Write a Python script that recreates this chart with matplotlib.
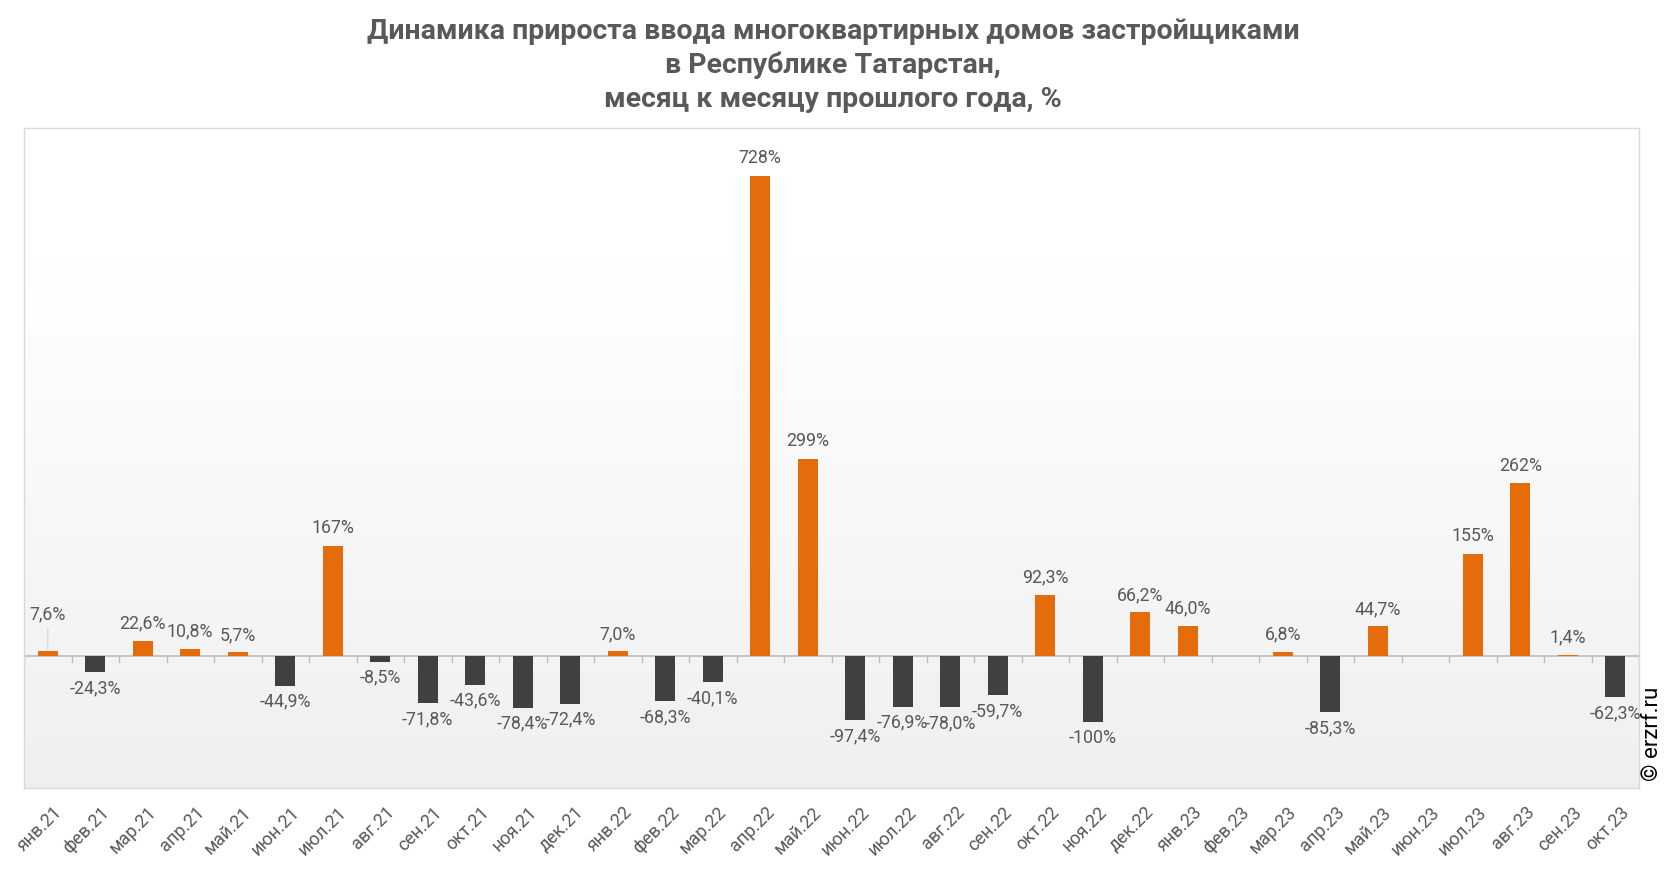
import matplotlib.pyplot as plt
import numpy as np

plt.rcParams['font.family'] = ['Roboto', 'DejaVu Sans']

months = ["янв.21", "фев.21", "мар.21", "апр.21", "май.21", "июн.21", "июл.21", "авг.21",
          "сен.21", "окт.21", "ноя.21", "дек.21", "янв.22", "фев.22", "мар.22", "апр.22",
          "май.22", "июн.22", "июл.22", "авг.22", "сен.22", "окт.22", "ноя.22", "дек.22",
          "янв.23", "фев.23", "мар.23", "апр.23", "май.23", "июн.23", "июл.23", "авг.23",
          "сен.23", "окт.23"]
values = [7.6, -24.3, 22.6, 10.8, 5.7, -44.9, 167, -8.5,
          -71.8, -43.6, -78.4, -72.4, 7.0, -68.3, -40.1, 728,
          299, -97.4, -76.9, -78.0, -59.7, 92.3, -100, 66.2,
          46.0, None, 6.8, -85.3, 44.7, None, 155, 262,
          1.4, -62.3]

ORANGE = "#e46c0a"
DARK = "#404040"
TXT = "#595959"
W, H = 1666, 872


def fmt(v):
    if abs(v) >= 100:
        return f"{v:.0f}%"
    return f"{v:.1f}%".replace(".", ",")


fig = plt.figure(figsize=(W / 100, H / 100), dpi=100)
ax = fig.add_axes([24 / W, 1 - 788 / H, (1639 - 24) / W, (788 - 128) / H])

ymin, ymax = -200, 800
n = len(months)
ax.set_xlim(-0.5, n - 0.5)
ax.set_ylim(ymin, ymax)

# background gradient: white at top -> light gray towards the bottom
g = np.linspace(0, 1, 256)
shade = np.clip(g / 0.8, 0, 1)
top = np.array([1.0, 1.0, 1.0])
bot = np.array([0.94, 0.94, 0.94])
img = (bot + (top - bot) * shade[:, None]).reshape(256, 1, 3)
ax.imshow(img, extent=[-0.5, n - 0.5, ymin, ymax], origin="lower",
          aspect="auto", zorder=0)

x = np.arange(n)
for i, v in enumerate(values):
    if v is None:
        continue
    ax.bar(i, v, width=0.42, color=ORANGE if v >= 0 else DARK, zorder=2)
    if v >= 0:
        if i == 0:
            ax.annotate(fmt(v), (i, v), xytext=(0, 20), textcoords="offset points",
                        ha="center", va="bottom", fontsize=12.8, color=TXT, zorder=3,
                        arrowprops=dict(arrowstyle="-", color="#d9d9d9", lw=1,
                                        shrinkA=2, shrinkB=1))
        else:
            ax.annotate(fmt(v), (i, v), xytext=(0, 6), textcoords="offset points",
                        ha="center", va="bottom", fontsize=12.8, color=TXT, zorder=3)
    else:
        ax.annotate(fmt(v), (i, v), xytext=(0, -5), textcoords="offset points",
                    ha="center", va="top", fontsize=12.8, color=TXT, zorder=3)

ax.axhline(0, color="#bfbfbf", lw=1.3, zorder=1)
for b in np.arange(-0.5, n):
    ax.plot([b, b], [0, -9], color="#bfbfbf", lw=1, zorder=1)

ax.set_yticks([])
ax.set_xticks(x + 0.1)
ax.set_xticklabels(months, rotation=45, ha="right", rotation_mode="anchor",
                   fontsize=13, color=TXT)
ax.tick_params(axis="x", length=0, pad=11)
for s in ax.spines.values():
    s.set_color("#d9d9d9")
    s.set_linewidth(1)

fig.text(0.5, 1 - 18 / H,
         "Динамика прироста ввода многоквартирных домов застройщиками\n"
         "в Республике Татарстан,\nмесяц к месяцу прошлого года, %",
         ha="center", va="top", fontsize=20.5, fontweight="bold", color=TXT,
         linespacing=1.32)
fig.text(1652 / W, 1 - 734 / H, "© erzrf.ru", rotation=90, ha="center",
         va="center", fontsize=16, color="#000000")

fig.savefig("out.png", dpi=100)
